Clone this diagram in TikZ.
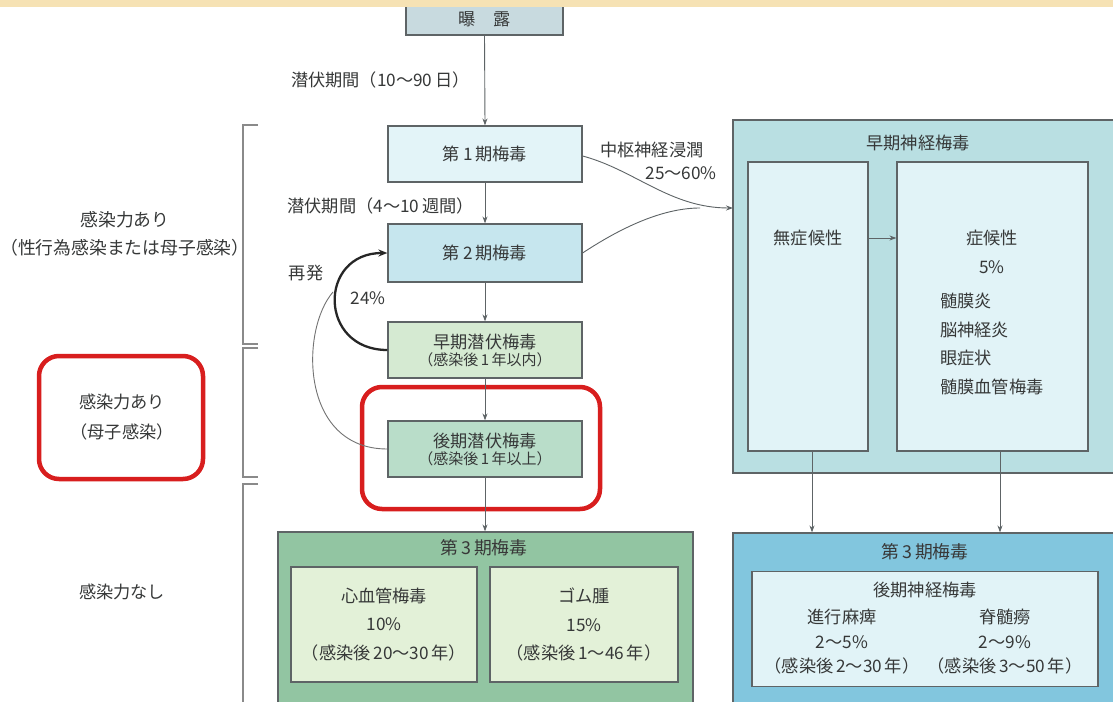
\documentclass[tikz,border=0pt]{standalone}
\usepackage{fontspec}
\setmainfont{Noto Sans CJK JP}
\usetikzlibrary{arrows.meta}
\definecolor{band}{HTML}{F6E2B4}
\definecolor{boxline}{HTML}{5E6466}
\definecolor{txt}{HTML}{363838}
\definecolor{expoc}{HTML}{C8DADF}
\definecolor{p1c}{HTML}{E3F4F8}
\definecolor{p2c}{HTML}{C6E6EE}
\definecolor{elc}{HTML}{D5EAD2}
\definecolor{llc}{HTML}{B9DDC9}
\definecolor{g3out}{HTML}{92C5A2}
\definecolor{g3in}{HTML}{E3F1D8}
\definecolor{neout}{HTML}{B9DFE2}
\definecolor{nein}{HTML}{E1F3F7}
\definecolor{b3out}{HTML}{82C6DE}
\definecolor{redc}{HTML}{D81E1E}
\definecolor{brkc}{HTML}{8A8A8A}
\begin{document}
\begin{tikzpicture}[x=1pt,y=-1pt,
  font=\fontsize{17.2}{20}\selectfont,
  box/.style={draw=boxline, line width=1.2pt, inner sep=0pt, align=center, text=txt},
  stagebox/.style={box, minimum width=194pt, minimum height=56pt},
  lbl/.style={inner sep=0pt, text=txt, align=center},
  arr/.style={draw=boxline, line width=0.9pt, -{Stealth[length=7pt,width=5pt]}},
  redbox/.style={draw=redc, line width=4.5pt, rounded corners=20pt},
  brk/.style={draw=brkc, line width=1.6pt}]
\useasboundingbox (0,0) rectangle (1113,701);
\fill[white] (0,0) rectangle (1113,701);

% exposure
\node[box, fill=expoc, minimum width=157pt, minimum height=32pt] (expo) at (484.5,19) {曝\quad 露};
\fill[band] (0,0) rectangle (1113,7);

% main column
\node[stagebox, fill=p1c] (p1) at (485,154) {第\,1\,期梅毒};
\node[stagebox, fill=p2c, minimum height=58pt] (p2) at (485,253) {第\,2\,期梅毒};
\node[stagebox, fill=elc] (elat) at (485,350) {早期潜伏梅毒\\[-3pt]{\fontsize{15}{17}\selectfont（感染後\,1\,年以内）}};
\node[stagebox, fill=llc] (llat) at (485,449) {後期潜伏梅毒\\[-3pt]{\fontsize{15}{17}\selectfont（感染後\,1\,年以上）}};

\node[lbl, anchor=east] (lab1) at (470,80) {潜伏期間（10〜90\,日）};
\node[lbl, anchor=east] (lab2) at (474,206) {潜伏期間（4〜10\,週間）};

% tertiary green
\node[box, fill=g3out, minimum width=415pt, minimum height=180pt] (g3) at (485.5,622) {};
\node[lbl, text=black!78, font=\fontsize{17.8}{20}\selectfont] (g3t) at (484,548) {第\,3\,期梅毒};
\node[box, fill=g3in, minimum width=186pt, minimum height=115pt, font=\fontsize{17.2}{28.5}\selectfont] (cardio) at (384,624.5)
  {心血管梅毒\\10\%\\（感染後\,20〜30\,年）};
\node[box, fill=g3in, minimum width=188pt, minimum height=115pt, font=\fontsize{17.2}{28.5}\selectfont] (gumma) at (584,624.5)
  {ゴム腫\\15\%\\（感染後\,1〜46\,年）};

% early neurosyphilis
\node[box, fill=neout, minimum width=392pt, minimum height=353pt] (ne) at (929,296.5) {};
\node[lbl] (net) at (918,143) {早期神経梅毒};
\node[box, fill=nein, minimum width=120pt, minimum height=289pt] (asym) at (808,306.5) {};
\node[box, fill=nein, minimum width=191pt, minimum height=289pt] (sym) at (992.5,306.5) {};
\node[lbl] (asymt) at (808,238) {無症候性};
\node[lbl] (symt) at (992,238) {症候性};
\node[lbl] (symp) at (992,267) {5\%};
\node[lbl, anchor=west, align=left, font=\fontsize{17.2}{28.5}\selectfont] (syml) at (940,344)
  {髄膜炎\\脳神経炎\\眼症状\\髄膜血管梅毒};

% tertiary blue
\node[box, fill=b3out, minimum width=392pt, minimum height=179pt] (b3) at (929,622.5) {};
\node[lbl, text=black!78, font=\fontsize{17.8}{20}\selectfont] (b3t) at (925,552) {第\,3\,期梅毒};
\node[box, fill=nein, minimum width=346pt, minimum height=115pt] (ln) at (925,629) {};
\node[lbl] (lnt) at (925,590) {後期神経梅毒};
\node[lbl, font=\fontsize{17.2}{24.5}\selectfont] (gp) at (842,642) {進行麻痺\\2〜5\%\\（感染後\,2〜30\,年）};
\node[lbl, font=\fontsize{17.2}{24.5}\selectfont] (tb) at (1005,642) {脊髄癆\\2〜9\%\\（感染後\,3〜50\,年）};

% red highlight boxes
\draw[redbox] (362,387) rectangle (600,509);
\draw[redbox] (39,356) rectangle (203,479);

% left labels
\node[lbl, font=\fontsize{17.8}{28}\selectfont] (inf1) at (125,234) {感染力あり\\（性行為感染または母子感染）};
\node[lbl, font=\fontsize{17.2}{30}\selectfont] (inf2) at (122,417) {感染力あり\\（母子感染）};
\node[lbl] (inf3) at (122,592) {感染力なし};

% brackets
\draw[brk] (258,125) -- (243,125) -- (243,344) -- (258,344);
\draw[brk] (258,348) -- (243,348) -- (243,477) -- (258,477);
\draw[brk] (258,484) -- (243,484) -- (243,710);

% vertical arrows
\draw[arr] (expo.south) -- (p1.north);
\draw[arr] (p1.south) -- (p2.north);
\draw[arr] (p2.south) -- (elat.north);
\draw[arr] (elat.south) -- (llat.north);
\draw[arr] (llat.south) -- (g3.north -| llat.south);
\draw[arr] ([xshift=4pt]asym.south) -- ([xshift=4pt]asym.south |- b3.north);
\draw[arr] ([xshift=7.5pt]sym.south) -- ([xshift=7.5pt]sym.south |- b3.north);
\draw[arr] (asym.east |- asymt) -- (sym.west |- asymt);

% CNS invasion
\coordinate (nin) at (733,208);
\coordinate (njoin) at (700,208);
\draw[arr] ([yshift=-2pt]p1.east) .. controls (635,170) and (670,208) .. (nin);
\draw[draw=boxline, line width=0.9pt] (p2.east) .. controls (625,225) and (665,208) .. (njoin);
\node[lbl, anchor=west] (cns) at (600,150) {中枢神経浸潤};
\node[lbl, anchor=east] (cnsp) at (717,173) {25〜60\%};

% relapse
\coordinate (rj) at (333,292);
\draw[draw=black!85, line width=2.3pt, -{Stealth[length=9pt,width=7pt]}] (elat.west) .. controls (318,350) and (318,253) .. (p2.west);
\draw[draw=black!55, line width=0.9pt] (llat.west) .. controls (300,449) and (300,330) .. (rj);
\node[lbl] (relt) at (306,273) {再発};
\node[lbl] (relp) at (368,298) {24\%};
\end{tikzpicture}
\end{document}
